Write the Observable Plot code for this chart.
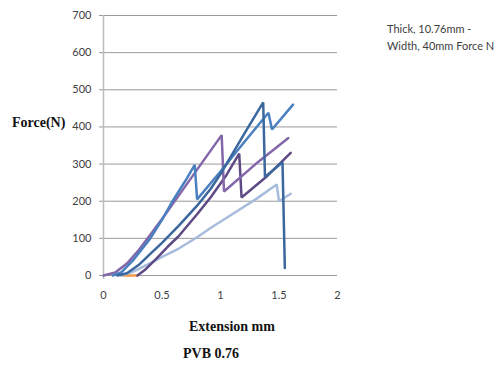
<!DOCTYPE html>
<html>
<head>
<meta charset="utf-8">
<script src="https://cdn.jsdelivr.net/npm/d3@7"></script>
<script src="https://cdn.jsdelivr.net/npm/@observablehq/plot@0.6"></script>
<style>
  html, body { margin: 0; padding: 0; background: #fff; }
  #wrap { position: relative; width: 501px; height: 365px; overflow: hidden; color: #404040; }
  .serif { position: absolute; font-family: "Liberation Serif", "DejaVu Serif", serif; font-weight: bold; font-size: 14px; color: #111; white-space: nowrap; }
  .legend { position: absolute; font-family: Lato, "Open Sans", sans-serif; font-size: 11px; color: #404040; white-space: nowrap; line-height: 17px; }
</style>
</head>
<body>
<div id="wrap"></div>
<script>
// ---- data ----
const xTicks = [0, 0.5, 1, 1.5, 2];
const xTickLabels = ["0", "0.5", "1", "1.5", "2"];
const yTicks = [0, 100, 200, 300, 400, 500, 600, 700];

const seriesNames = ["orange", "lightBlue", "darkPurple", "purple", "blue", "darkBlue"];
const seriesColors = ["#f79646", "#a7bcdc", "#5e4a85", "#8466aa", "#4a80c0", "#3b679e"];

const orangeX = [0.16, 0.29];
const orangeY = [0, 0];

const lightBlueX = [0.15, 0.25, 0.4, 0.5, 0.64, 0.8, 0.915, 1.1, 1.3, 1.48, 1.5, 1.6];
const lightBlueY = [0, 10, 33, 50, 72, 103, 128, 165, 205, 245, 200, 220];

const darkPurpleX = [0.29, 0.35, 0.45, 0.55, 0.64, 0.8, 0.915, 1.05, 1.16, 1.18, 1.4, 1.6];
const darkPurpleY = [0, 14, 45, 78, 105, 165, 210, 270, 328, 210, 268, 330];

const purpleX = [0, 0.1, 0.2, 0.3, 0.4, 0.5, 0.62, 0.8, 1.01, 1.03, 1.3, 1.58];
const purpleY = [0, 8, 32, 68, 110, 152, 205, 285, 378, 226, 300, 370];

const blueX = [0.08, 0.15, 0.25, 0.4, 0.5, 0.59, 0.7, 0.78, 0.8, 1.0, 1.2, 1.41, 1.44, 1.62];
const blueY = [0, 8, 40, 100, 150, 200, 255, 298, 205, 280, 358, 438, 393, 460];

const darkBlueX = [0.12, 0.2, 0.3, 0.4, 0.5, 0.64, 0.8, 0.915, 1.0, 1.2, 1.365, 1.38, 1.53, 1.55];
const darkBlueY = [0, 6, 28, 58, 88, 133, 188, 233, 273, 380, 466, 265, 305, 20];

const legendLines = ["Thick, 10.76mm -", "Width, 40mm Force N"];
const yTitle = "Force(N)";
const xTitle = "Extension mm";
const caption = "PVB 0.76";

// ---- build table ----
const seriesXs = [orangeX, lightBlueX, darkPurpleX, purpleX, blueX, darkBlueX];
const seriesYs = [orangeY, lightBlueY, darkPurpleY, purpleY, blueY, darkBlueY];
const rows = [];
seriesNames.forEach((name, i) => {
  seriesXs[i].forEach((xv, j) => rows.push({series: name, x: xv, y: seriesYs[i][j]}));
});

const chart = Plot.plot({
  width: 501,
  height: 365,
  marginLeft: 103,
  marginRight: 164,
  marginTop: 15,
  marginBottom: 90,
  style: {background: "#fff", color: "#404040"},
  x: {domain: [0, 2], ticks: xTicks, tickFormat: (d, i) => xTickLabels[xTicks.indexOf(d)]},
  y: {domain: [0, 700], ticks: yTicks},
  color: {domain: seriesNames, range: seriesColors},
  marks: [
    Plot.ruleY(yTicks, {stroke: "#9a9a9a", strokeWidth: 1}),
    Plot.ruleX([0], {stroke: "#bdbdbd", strokeWidth: 1.5, insetBottom: -4}),
    Plot.axisY({ticks: yTicks, tickSize: 4, tickPadding: 8, stroke: "#9a9a9a", fontSize: 11, fontFamily: "Lato, 'Open Sans', sans-serif", label: null}),
    Plot.axisX({ticks: xTicks, tickSize: 0, tickPadding: 16, fontSize: 11, fontFamily: "Lato, 'Open Sans', sans-serif", label: null, tickFormat: d => xTickLabels[xTicks.indexOf(d)]}),
    Plot.line(rows, {x: "x", y: "y", z: "series", stroke: "series", strokeWidth: 2.5, strokeLinejoin: "miter", curve: "linear"})
  ]
});

const wrap = document.getElementById("wrap");
wrap.appendChild(chart);

function addText(cls, text, left, top) {
  const d = document.createElement("div");
  d.className = cls;
  d.textContent = text;
  d.style.left = left + "px";
  d.style.top = top + "px";
  wrap.appendChild(d);
  return d;
}
addText("serif", yTitle, 12, 115);
const xt = addText("serif", xTitle, 0, 319);
xt.style.left = (232 - xt.offsetWidth / 2) + "px";
const cp = addText("serif", caption, 0, 346);
cp.style.left = (211 - cp.offsetWidth / 2) + "px";
addText("legend", legendLines[0], 387, 20);
addText("legend", legendLines[1], 387, 37);
</script>
</body>
</html>
